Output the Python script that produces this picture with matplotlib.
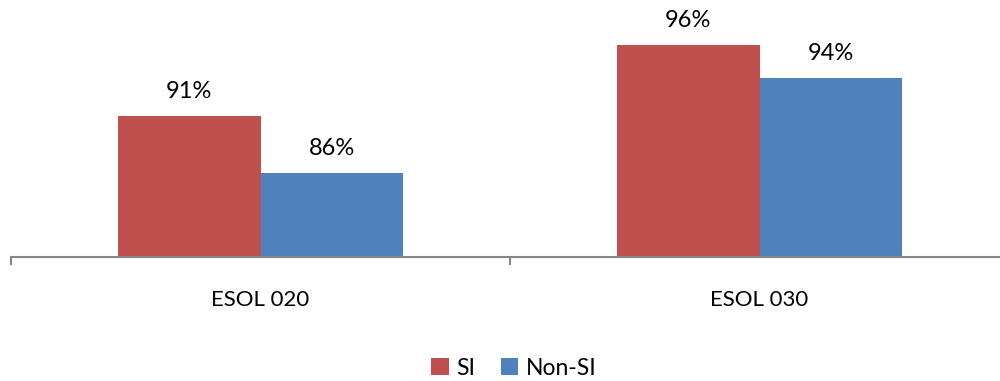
import matplotlib.pyplot as plt
import numpy as np

plt.rcParams['font.family'] = ['Lato', 'DejaVu Sans']

categories = ["ESOL 020", "ESOL 030"]
si_values = [90.85, 96.3]
non_si_values = [86.45, 93.8]
series_names = ["SI", "Non-SI"]
colors = ["#C0504D", "#4F81BD"]

fig = plt.figure(figsize=(10, 3.81), dpi=100)
ax = fig.add_axes([0.011, 0.3255, 0.998, 0.682])

x = np.arange(len(categories))
w = 0.285
b1 = ax.bar(x - w / 2, si_values, w, color=colors[0], label=series_names[0])
b2 = ax.bar(x + w / 2, non_si_values, w, color=colors[1], label=series_names[1])

# data labels above each bar
for bars in (b1, b2):
    for rect in bars:
        v = rect.get_height()
        ax.annotate(f"{round(v)}%", (rect.get_x() + rect.get_width() / 2, v),
                    xytext=(0, 10), textcoords="offset points",
                    ha="center", va="bottom", fontsize=17, color="#000000")

ax.set_ylim(80, 100)
ax.set_xlim(-0.5, 1.5)
ax.set_yticks([])
ax.set_xticks([-0.5, 0.5, 1.5], minor=False)
ax.set_xticklabels([])
ax.set_xticks(x, minor=True)
ax.set_xticklabels(categories, minor=True, fontsize=16)
ax.tick_params(axis="x", which="major", length=6, width=1.5, color="#868686")
ax.tick_params(axis="x", which="minor", length=0, pad=24)
for s in ["top", "right", "left"]:
    ax.spines[s].set_visible(False)
ax.spines["bottom"].set_color("#868686")
ax.spines["bottom"].set_linewidth(1.5)

fig.legend(loc="center", bbox_to_anchor=(0.514, 0.034), ncol=2, frameon=False,
           fontsize=16.5, handlelength=0.75, handleheight=0.75, handletextpad=0.35,
           columnspacing=1.1)

fig.savefig("out.png", dpi=100)
